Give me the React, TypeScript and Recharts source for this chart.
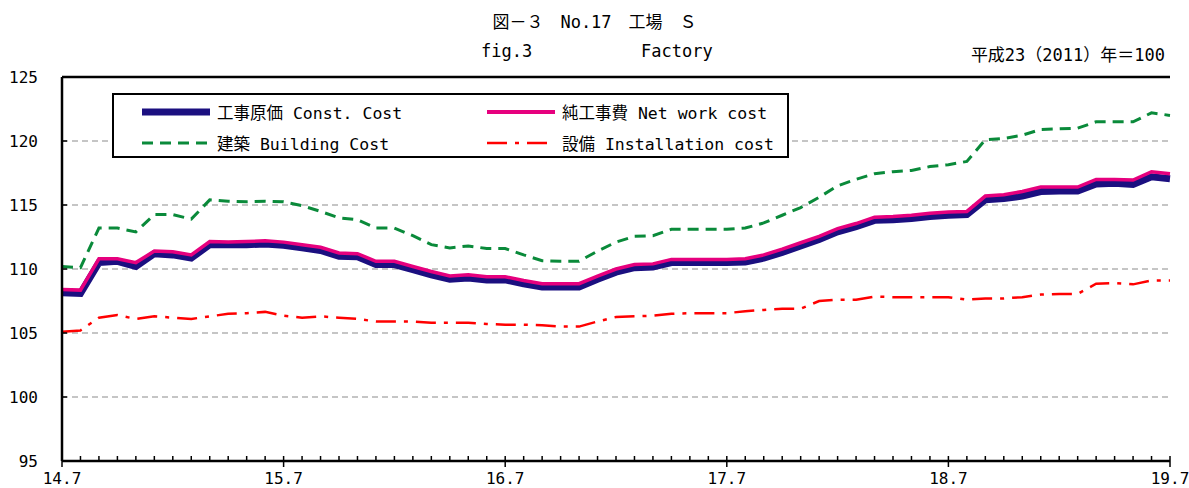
import { LineChart, Line, XAxis, YAxis, CartesianGrid, ReferenceLine } from 'recharts';

// monthly index values, 14.7 .. 19.7 (61 months)
const constCost = [
  108.15, 108.1, 110.5, 110.6, 110.2, 111.2, 111.1, 110.85, 111.9, 111.9, 111.9, 111.95,
  111.85, 111.65, 111.45, 111.0, 110.95, 110.35, 110.35, 109.95, 109.55, 109.2, 109.3, 109.15,
  109.15, 108.85, 108.6, 108.6, 108.6, 109.2, 109.75, 110.1, 110.15, 110.5, 110.5, 110.5,
  110.5, 110.55, 110.85, 111.3, 111.8, 112.3, 112.9, 113.3, 113.8, 113.85, 113.95, 114.1,
  114.2, 114.25, 115.4, 115.5, 115.7, 116.05, 116.1, 116.1, 116.65, 116.7, 116.6, 117.2,
  117.05,
];
const netWork = [
  108.4, 108.35, 110.8, 110.8, 110.5, 111.4, 111.35, 111.1, 112.15, 112.1, 112.15, 112.2,
  112.1, 111.9, 111.7, 111.25, 111.2, 110.6, 110.6, 110.2, 109.8, 109.45, 109.55, 109.4,
  109.4, 109.1, 108.85, 108.85, 108.85, 109.45, 110.0, 110.35, 110.4, 110.75, 110.75, 110.75,
  110.75, 110.8, 111.1, 111.55, 112.05, 112.55, 113.15, 113.55, 114.05, 114.1, 114.2, 114.35,
  114.45, 114.5, 115.7, 115.8, 116.05, 116.4, 116.4, 116.4, 117.0, 117.0, 116.95, 117.6,
  117.45,
];
const building = [
  110.2, 110.1, 113.2, 113.2, 112.9, 114.25, 114.25, 113.9, 115.4, 115.3, 115.25, 115.3,
  115.25, 114.95, 114.5, 114.0, 113.85, 113.2, 113.2, 112.6, 111.9, 111.65, 111.8, 111.6,
  111.6, 111.1, 110.65, 110.6, 110.6, 111.4, 112.1, 112.55, 112.6, 113.1, 113.1, 113.1,
  113.1, 113.2, 113.6, 114.2, 114.8, 115.6, 116.5, 117.0, 117.45, 117.6, 117.7, 118.0,
  118.15, 118.4, 120.1, 120.2, 120.45, 120.9, 120.95, 121.0, 121.5, 121.5, 121.5, 122.2,
  122.0,
];
const installation = [
  105.1, 105.2, 106.2, 106.4, 106.1, 106.3, 106.2, 106.1, 106.3, 106.5, 106.55, 106.65,
  106.35, 106.2, 106.3, 106.2, 106.1, 105.9, 105.9, 105.9, 105.8, 105.8, 105.8, 105.7,
  105.65, 105.65, 105.6, 105.5, 105.5, 105.9, 106.25, 106.3, 106.35, 106.5, 106.55, 106.55,
  106.55, 106.7, 106.8, 106.9, 106.9, 107.5, 107.6, 107.6, 107.85, 107.8, 107.8, 107.8,
  107.8, 107.6, 107.7, 107.7, 107.8, 108.0, 108.05, 108.05, 108.85, 108.9, 108.8, 109.1,
  109.1,
];
const yearLabels = ['14.7', '15.7', '16.7', '17.7', '18.7', '19.7'];
const yTicks = [95, 100, 105, 110, 115, 120, 125];

const data = constCost.map((v, i) => ({
  m: i,
  constCost: v,
  netWork: netWork[i],
  building: building[i],
  installation: installation[i],
}));
const monthTicks = data.map((d) => d.m);

const FONT = '"DejaVu Sans Mono", "Noto Sans CJK JP", monospace';
const NAVY = '#1b0f80';
const PINK = '#e6007e';
const GREEN = '#0a8a3a';
const RED = '#ff0000';
const RED_DASH = '20 8 4 8';
const GREEN_DASH = '11 7';

function XTick({ x, y, payload }: any) {
  const major = payload.value % 12 === 0;
  return (
    <g>
      <line x1={x} x2={x} y1={y - 5} y2={major ? y + 6 : y} stroke="#000" strokeWidth={1.5} />
      {major && (
        <text x={x} y={y + 23} textAnchor="middle" fontFamily={FONT} fontSize={16} fill="#000">
          {yearLabels[payload.value / 12]}
        </text>
      )}
    </g>
  );
}

function YTick({ x, y, payload }: any) {
  return (
    <g>
      <line x1={x} x2={x + 5} y1={y} y2={y} stroke="#000" strokeWidth={1.5} />
      <text x={x - 24} y={y + 6} textAnchor="end" fontFamily={FONT} fontSize={16} fill="#000">
        {payload.value}
      </text>
    </g>
  );
}

const legendItems = [
  { label: '工事原価 Const. Cost', color: NAVY, width: 7, dash: undefined },
  { label: '純工事費 Net work cost', color: PINK, width: 4, dash: undefined },
  { label: '建築 Building Cost', color: GREEN, width: 3, dash: GREEN_DASH },
  { label: '設備 Installation cost', color: RED, width: 2.5, dash: RED_DASH },
];

function LegendBox() {
  return (
    <div
      style={{
        position: 'absolute',
        left: 112,
        top: 93,
        width: 677,
        height: 65,
        border: '2px solid #000',
        background: '#fff',
        boxSizing: 'border-box',
        display: 'grid',
        gridTemplateColumns: '345px 330px',
        gridTemplateRows: '31px 31px',
        paddingTop: 1,
      }}
    >
      {legendItems.map((it) => (
        <div key={it.label} style={{ display: 'flex', alignItems: 'center' }}>
          <svg width={103} height={20} style={{ flex: 'none' }}>
            <line
              x1={28}
              x2={96}
              y1={10}
              y2={10}
              stroke={it.color}
              strokeWidth={it.width}
              strokeDasharray={it.dash}
            />
          </svg>
          <span style={{ fontFamily: FONT, fontSize: 16.5, color: '#000', whiteSpace: 'pre' }}>
            {it.label}
          </span>
        </div>
      ))}
    </div>
  );
}

const textStyle = { position: 'absolute' as const, fontFamily: FONT, fontSize: 17, whiteSpace: 'pre' as const };

export default function App() {
  return (
    <div style={{ position: 'absolute', left: 0, top: 0, width: 1189, height: 488, background: '#fff' }}>
      <LineChart
        width={1189}
        height={488}
        data={data}
        margin={{ top: 77, right: 19, bottom: 0, left: 12 }}
        style={{ position: 'absolute', left: 0, top: 0 }}
      >
        <CartesianGrid vertical={false} stroke="#8c8c8c" strokeDasharray="6 4" strokeWidth={1.2} />
        <ReferenceLine y={125} stroke="#000" strokeWidth={2.5} />
        <XAxis
          dataKey="m"
          type="number"
          domain={[0, 60]}
          ticks={monthTicks}
          interval={0}
          height={27}
          tickSize={0}
          tickMargin={0}
          tick={<XTick />}
          axisLine={{ stroke: '#000', strokeWidth: 2.5 }}
          tickLine={false}
        />
        <YAxis
          domain={[95, 125]}
          ticks={yTicks}
          interval={0}
          width={50}
          tickSize={0}
          tickMargin={0}
          tick={<YTick />}
          axisLine={{ stroke: '#000', strokeWidth: 2.5 }}
          tickLine={false}
        />
        <YAxis
          yAxisId="right"
          orientation="right"
          domain={[95, 125]}
          width={0}
          tick={false}
          tickLine={false}
          axisLine={{ stroke: '#000', strokeWidth: 2.5 }}
        />
        <Line
          dataKey="building"
          stroke={GREEN}
          strokeWidth={3}
          strokeDasharray={GREEN_DASH}
          dot={false}
          isAnimationActive={false}
        />
        <Line
          dataKey="installation"
          stroke={RED}
          strokeWidth={2.5}
          strokeDasharray={RED_DASH}
          dot={false}
          isAnimationActive={false}
        />
        <Line dataKey="constCost" stroke={NAVY} strokeWidth={7} dot={false} isAnimationActive={false} />
        <Line dataKey="netWork" stroke={PINK} strokeWidth={3.5} dot={false} isAnimationActive={false} />
      </LineChart>
      <LegendBox />
      <div style={{ ...textStyle, left: 0, width: 1189, top: 8, textAlign: 'center' }}>
        {'図－３　No.17　工場　Ｓ'}
      </div>
      <div style={{ ...textStyle, left: 481, top: 41 }}>fig.3</div>
      <div style={{ ...textStyle, left: 641, top: 41 }}>Factory</div>
      <div style={{ ...textStyle, right: 24, top: 41 }}>{'平成23（2011）年＝100'}</div>
    </div>
  );
}
